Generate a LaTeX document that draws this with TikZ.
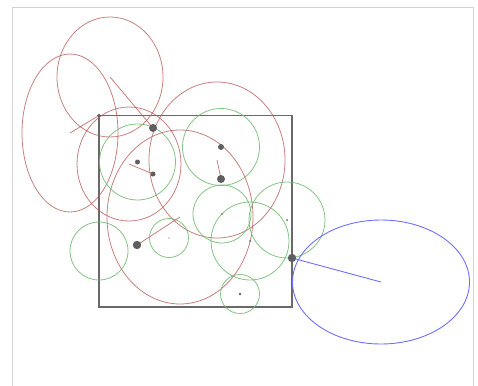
\documentclass[tikz,border=0pt]{standalone}
\begin{document}
\begin{tikzpicture}[x=1pt,y=-1pt,
  redell/.style={draw={rgb,255:red,180;green,85;blue,85},draw opacity=0.75,line width=0.8pt},
  greenc/.style={draw={rgb,255:red,110;green,185;blue,110},draw opacity=0.85,line width=0.8pt},
  bluee/.style={draw={rgb,255:red,110;green,110;blue,255},line width=0.9pt},
  bigdot/.style={fill={rgb,255:red,95;green,95;blue,95}},
  framebox/.style={draw={rgb,255:red,210;green,210;blue,210},line width=1pt},
  sq/.style={draw={rgb,255:red,105;green,105;blue,105},line width=1.8pt}]
\useasboundingbox (0,0) rectangle (478,385);
\clip (0,0) rectangle (478,385);
\draw[framebox] (12,8) rectangle (473,392);
% named points
\coordinate (e1) at (110,77);
\coordinate (e2) at (70,133);
\coordinate (e3) at (129,164);
\coordinate (e4) at (217,160);
\coordinate (e5) at (180,217);
\coordinate (eb) at (381,282);
\coordinate (p1) at (153,128);
\coordinate (p2) at (99,115.5);
\coordinate (p3) at (153,174);
\coordinate (p4) at (221,179);
\coordinate (p5) at (137,245);
\coordinate (p6) at (292,258);
\coordinate (g1) at (137.5,162);
\coordinate (g2) at (221,147);
\coordinate (g3) at (99,251);
\coordinate (g4) at (169,238);
\coordinate (g5) at (222,214);
\coordinate (g6) at (250,241);
\coordinate (g7) at (287,220);
\coordinate (g8) at (240,294);
% square
\draw[sq] (99,115.5) rectangle (292,307);
% red ellipses
\draw[redell] (e1) ellipse [x radius=53, y radius=60];
\draw[redell] (e2) ellipse [x radius=48, y radius=79];
\draw[redell] (e3) ellipse [x radius=52, y radius=57];
\draw[redell] (e4) ellipse [x radius=68, y radius=78];
\draw[redell] (e5) ellipse [x radius=73, y radius=87];
\draw[redell] (e1) -- (p1);
\draw[redell] (e2) -- (p2);
\draw[redell] (e3) -- (p3);
\draw[redell] (e4) -- (p4);
\draw[redell] (e5) -- (p5);
% green circles
\draw[greenc] (g1) circle [radius=38];
\draw[greenc] (g2) circle [radius=38.5];
\draw[greenc] (g3) circle [radius=29];
\draw[greenc] (g4) circle [radius=19.5];
\draw[greenc] (g5) circle [radius=29];
\draw[greenc] (g6) circle [radius=39];
\draw[greenc] (g7) circle [radius=38];
\draw[greenc] (g8) circle [radius=19.5];
% blue ellipse
\draw[bluee] (eb) ellipse [x radius=88.5, y radius=62];
\draw[bluee] (eb) -- (p6);
% dots
\fill[bigdot] (p1) circle [radius=4];
\fill[bigdot] (p4) circle [radius=4];
\fill[bigdot] (p5) circle [radius=4.2];
\fill[bigdot] (p6) circle [radius=4.2];
\fill[bigdot] (g1) circle [radius=2.5];
\fill[bigdot] (p3) circle [radius=2.5];
\fill[bigdot] (g2) circle [radius=3];
\fill[bigdot] (p2) circle [radius=1.8];
\fill[bigdot] (g3) circle [radius=0.7];
\fill[bigdot] (g4) circle [radius=0.6];
\fill[bigdot] (g5) circle [radius=0.9];
\fill[bigdot] (g6) circle [radius=1];
\fill[bigdot] (g7) circle [radius=1];
\fill[bigdot] (g8) circle [radius=1.4];
\end{tikzpicture}
\end{document}
